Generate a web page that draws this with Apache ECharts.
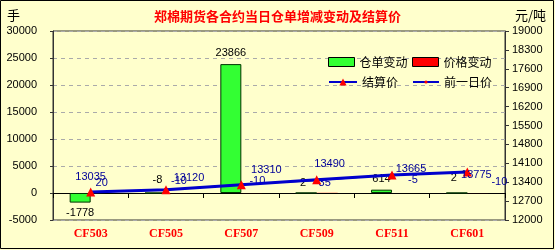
<!DOCTYPE html>
<html><head><meta charset="utf-8">
<script src="https://cdn.jsdelivr.net/npm/echarts@6/dist/echarts.min.js"></script>
<style>html,body{margin:0;padding:0;background:#FFFFCC}#c{width:555px;height:250px}</style>
</head><body><div id="c"></div>
<script>
const categories = ['CF503','CF505','CF507','CF509','CF511','CF601'];
const warehouseChange = [-1778, -8, 23866, 2, 614, 2];
const priceChange = [20, -10, -10, 35, -5, -10];
const settlePrice = [13035, 13120, 13310, 13490, 13665, 13775];
const prevPrice = [13015, 13130, 13320, 13455, 13670, 13785];
const leftTicks = {min: -5000, max: 30000, interval: 5000};
const rightTicks = {min: 12000, max: 19000, interval: 700};

// label placement (style only)
const settleLabelOffset = [[0,0],[23,3],[25,0],[13,-1],[19,9],[9,18]];
const changeLabelOffset = [[11,3],[13,4],[16,9],[8,15],[21,18],[32,23]];
const whLabelOffset = [[0,0],[2,-2],[0,-1],[-3,1],[0,0],[-3,-4]];

const font = 'Liberation Sans, Arial, sans-serif';
const cjk = '"Noto Sans CJK SC", sans-serif';
const legText = {fontSize:12, fontFamily:cjk, color:'#000'};

const chart = echarts.init(document.getElementById('c'), null, {renderer:'canvas'});
chart.setOption({
  backgroundColor: '#FFFFCC',
  animation: false,
  title: {text: '郑棉期货各合约当日仓单增减变动及结算价', left: 'center', top: 5,
    textStyle: {color: '#FF0000', fontSize: 13, fontWeight: 'bold', fontFamily: cjk}},
  graphic: [
    {type:'rect', shape:{x:0.5,y:0.5,width:553,height:248}, style:{fill:null, stroke:'#000', lineWidth:1}, silent:true},
    {type:'text', left: 7, top: 9, style:{text:'手', fontSize:13, fontFamily:cjk, fill:'#000'}},
    {type:'text', left: 515, top: 9, style:{text:'元/吨', fontSize:13, fontFamily:cjk, fill:'#000'}}
  ],
  legend: [
    {left: 323, top: 51, itemWidth: 26, itemHeight: 9, textStyle: legText,
     data:[{name:'仓单变动', icon:'rect', itemStyle:{borderColor:'#000', borderWidth:1}}]},
    {left: 407, top: 51, itemWidth: 26, itemHeight: 9, textStyle: legText,
     data:[{name:'价格变动', icon:'rect', itemStyle:{borderColor:'#000', borderWidth:1}}]},
    {left: 323, top: 71, itemWidth: 28, itemHeight: 9, textStyle: legText,
     data:[{name:'结算价'}]},
    {left: 407, top: 71, itemWidth: 26, itemHeight: 4, textStyle: legText,
     data:[{name:'前一日价'}]}
  ],
  grid: {left: 53, right: 50, top: 31, bottom: 30, show: true, borderColor: '#333', borderWidth: 1, backgroundColor: 'transparent'},
  xAxis: [
    {type:'category', data: categories, position:'bottom',
     axisLine:{onZero:true, lineStyle:{color:'#000'}},
     axisTick:{show:true, inside:false, length:5, lineStyle:{color:'#000'}},
     axisLabel:{show:false}},
    {type:'category', data: categories, position:'bottom',
     axisLine:{show:false, onZero:false}, axisTick:{show:false},
     axisLabel:{color:'#FF0000', fontWeight:'bold', fontSize:12, fontFamily:'Liberation Serif, Times New Roman, serif', margin:8}}
  ],
  yAxis: [
    {type:'value', min:leftTicks.min, max:leftTicks.max, interval:leftTicks.interval,
     axisLine:{show:true, lineStyle:{color:'#333'}}, axisTick:{show:true, length:3, lineStyle:{color:'#333'}},
     axisLabel:{color:'#000', fontSize:11, fontFamily:font, margin:16, formatter: v => String(v)},
     splitLine:{show:true, lineStyle:{color:'#AAAAAA', type:[4,4]}}},
    {type:'value', min:rightTicks.min, max:rightTicks.max, interval:rightTicks.interval,
     axisLine:{show:true, lineStyle:{color:'#333'}}, axisTick:{show:true, length:4, lineStyle:{color:'#333'}},
     axisLabel:{color:'#000', fontSize:11, fontFamily:font, margin:7, formatter: v => String(v)},
     splitLine:{show:false}}
  ],
  series: [
    {name:'仓单变动', type:'bar', xAxisIndex:0, yAxisIndex:0, barWidth:21, barGap:'0%',
     itemStyle:{color:'#33FF33', borderColor:'#003300', borderWidth:1},
     data: warehouseChange.map((v,i)=>({value:v, label:{show:true, position: v < -100 ? 'bottom':'top', offset: whLabelOffset[i]}})),
     label:{color:'#000', fontSize:11, fontFamily:font, distance:5}},
    {name:'价格变动', type:'bar', xAxisIndex:0, yAxisIndex:0, barWidth:21,
     itemStyle:{color:'#FF0000', borderWidth:0}, data: priceChange},
    {name:'结算价', type:'line', xAxisIndex:0, yAxisIndex:1, z:4,
     symbol:'triangle', symbolSize:9, lineStyle:{color:'#0000CC', width:3},
     itemStyle:{color:'#FF0000'},
     data: settlePrice.map((v,i)=>({value:v, label:{show:true, position:'top', offset: settleLabelOffset[i]}})),
     label:{color:'#000099', fontSize:11, fontFamily:font, distance:5}},
    {name:'前一日价', type:'line', xAxisIndex:0, yAxisIndex:1, z:3,
     symbol:'circle', symbolSize:4, lineStyle:{color:'#0000CC', width:1},
     itemStyle:{color:'#FF0000'},
     data: prevPrice.map((v,i)=>({value:v, label:{show:true, position:'top', offset: changeLabelOffset[i],
        formatter: () => String(priceChange[i])}})),
     label:{color:'#000099', fontSize:11, fontFamily:font, distance:5}}
  ]
});
</script></body></html>
